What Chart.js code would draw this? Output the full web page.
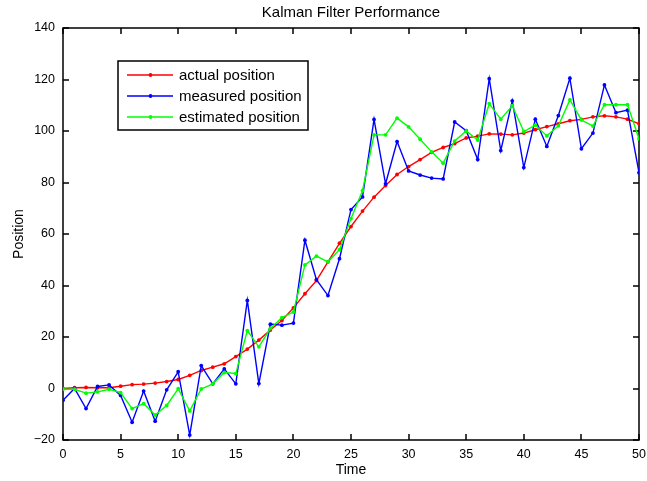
<!DOCTYPE html>
<html>
<head>
<meta charset="utf-8">
<title>Kalman Filter Performance</title>
<script src="https://cdn.jsdelivr.net/npm/chart.js@4"></script>
<style>
  html, body { margin: 0; padding: 0; background: #fff; }
  canvas { display: block; }
</style>
</head>
<body>
<canvas id="chart" width="647" height="481"></canvas>
<script>
// Datos
const tiempo = [0, 1, 2, 3, 4, 5, 6, 7, 8, 9, 10, 11, 12, 13, 14, 15, 16, 17, 18, 19, 20,
  21, 22, 23, 24, 25, 26, 27, 28, 29, 30, 31, 32, 33, 34, 35, 36, 37, 38, 39, 40,
  41, 42, 43, 44, 45, 46, 47, 48, 49, 50];

const posicionReal = [0, 0.3, 0.4, 0.3, 0.3, 0.9, 1.5, 1.7, 2.1, 2.7, 3.5,
  5.1, 7.0, 8.3, 9.6, 12.4, 15.3, 18.8, 22.7, 26.4, 31.3,
  36.8, 41.9, 49.2, 56.4, 62.9, 68.9, 74.3, 78.8, 83.1, 86.2,
  88.9, 91.7, 93.6, 95.1, 97.3, 98.0, 98.9, 98.8, 98.5, 99.2,
  100.5, 101.7, 102.8, 104.0, 104.5, 105.5, 105.9, 105.5, 104.6, 102.8];

const posicionMedida = [-4.6, 0, -7.8, 0.8, 1.4, -2.7, -13.1, -1.0, -12.7, -0.5, 6.5,
  -18.1, 8.9, 1.8, 7.6, 1.8, 34.2, 1.9, 25.0, 24.6, 25.4,
  57.6, 42.3, 36.1, 50.4, 69.5, 74.4, 104.5, 79.5, 95.9, 84.5,
  82.9, 81.7, 81.4, 103.5, 100.1, 88.9, 120.3, 92.4, 111.7, 85.8,
  104.6, 94.0, 106.0, 120.5, 93.1, 99.2, 117.9, 107.1, 108.1, 83.8];

const posicionEstimada = [-0.3, -0.3, -1.8, -1.3, -0.3, -1.6, -7.8, -5.9, -10.3, -6.6, -0.1,
  -8.7, -0.2, 1.8, 6.2, 5.8, 22.5, 16.2, 23.3, 27.5, 29.7,
  48.0, 51.4, 49.2, 53.9, 66.0, 76.8, 98.5, 98.5, 105.0, 101.6,
  96.8, 91.9, 87.5, 96.1, 100.0, 96.5, 110.6, 104.6, 109.8, 99.8,
  102.3, 98.1, 102.0, 112.1, 104.3, 101.9, 110.2, 110.2, 110.2, 97.0];

const ticksX = [0, 5, 10, 15, 20, 25, 30, 35, 40, 45, 50];
const ticksY = [-20, 0, 20, 40, 60, 80, 100, 120, 140];

const titulo = 'Kalman Filter Performance';
const FUENTE = '"Liberation Sans", Arial, Helvetica, sans-serif';

function puntos(valores) {
  return tiempo.map((t, i) => ({ x: t, y: valores[i] }));
}

function serie(label, valores, color, orden) {
  return {
    label: label,
    data: puntos(valores),
    borderColor: color,
    backgroundColor: color,
    borderWidth: 1.4,
    pointRadius: 1.9,
    pointBorderWidth: 0,
    pointBackgroundColor: color,
    tension: 0,
    order: orden
  };
}

// Caja de ejes con marcas hacia adentro (estilo MATLAB)
const cajaEjes = {
  id: 'cajaEjes',
  beforeDatasetsDraw(chart) {
    const c = chart.ctx;
    const a = chart.chartArea;
    const sx = chart.scales.x, sy = chart.scales.y;
    const largo = 6;
    const izq = Math.round(a.left), der = Math.round(a.right);
    const arr = Math.round(a.top), abj = Math.round(a.bottom);
    c.save();
    c.strokeStyle = '#000000';
    c.lineWidth = 1.5;
    c.lineCap = 'butt';
    c.beginPath();
    ticksX.forEach(v => {
      const px = Math.round(sx.getPixelForValue(v));
      c.moveTo(px, abj); c.lineTo(px, abj - largo);
      c.moveTo(px, arr); c.lineTo(px, arr + largo);
    });
    ticksY.forEach(v => {
      const py = Math.round(sy.getPixelForValue(v));
      c.moveTo(izq, py); c.lineTo(izq + largo, py);
      c.moveTo(der, py); c.lineTo(der - largo, py);
    });
    c.stroke();
    c.beginPath();
    c.rect(izq, arr, der - izq, abj - arr);
    c.stroke();
    c.restore();
  },
  afterDraw(chart) {
    const c = chart.ctx;
    const a = chart.chartArea;
    c.save();
    c.fillStyle = '#000';
    c.font = '15px ' + FUENTE;
    c.textAlign = 'center';
    c.textBaseline = 'alphabetic';
    c.fillText(titulo, (a.left + a.right) / 2, 17);
    c.restore();
  }
};

// Leyenda dibujada dentro del area, como en la figura original
const leyenda = {
  id: 'leyenda',
  afterDatasetsDraw(chart) {
    const c = chart.ctx;
    const x0 = 118, y0 = 61, ancho = 190, alto = 69;
    const filas = [75, 96, 117];
    c.save();
    c.fillStyle = '#fff';
    c.fillRect(x0, y0, ancho, alto);
    c.strokeStyle = '#000';
    c.lineWidth = 1.5;
    c.strokeRect(x0, y0, ancho, alto);
    c.font = '15px ' + FUENTE;
    c.textBaseline = 'middle';
    c.textAlign = 'left';
    chart.data.datasets.forEach((ds, i) => {
      const y = filas[i];
      c.strokeStyle = ds.borderColor;
      c.lineWidth = 1.4;
      c.beginPath();
      c.moveTo(127, y); c.lineTo(173, y);
      c.stroke();
      c.fillStyle = ds.borderColor;
      c.beginPath();
      c.arc(150.5, y, 1.9, 0, Math.PI * 2);
      c.fill();
      c.fillStyle = '#000';
      c.fillText(ds.label, 179, y + 1);
    });
    c.restore();
  }
};

const ctx = document.getElementById('chart').getContext('2d');
new Chart(ctx, {
  type: 'line',
  data: {
    datasets: [
      serie('actual position', posicionReal, '#ff0000', 3),
      serie('measured position', posicionMedida, '#0000ff', 2),
      serie('estimated position', posicionEstimada, '#00ff00', 1)
    ]
  },
  options: {
    responsive: false,
    animation: false,
    layout: { padding: { left: 0, right: 8, top: 28, bottom: 0 } },
    plugins: {
      legend: { display: false },
      tooltip: { enabled: false },
      title: { display: false }
    },
    scales: {
      x: {
        type: 'linear',
        min: 0,
        max: 50,
        afterBuildTicks: s => { s.ticks = ticksX.map(v => ({ value: v })); },
        afterFit: s => { s.height = 41; s.paddingLeft = 0; s.paddingRight = 0; },
        grid: { display: false, drawTicks: false },
        border: { display: false },
        ticks: {
          color: '#000',
          padding: 7,
          maxRotation: 0,
          font: { family: FUENTE, size: 12.5 }
        },
        title: {
          display: true,
          text: 'Time',
          color: '#000',
          font: { family: FUENTE, size: 14 },
          padding: { top: 0, bottom: 2 }
        }
      },
      y: {
        type: 'linear',
        min: -20,
        max: 140,
        afterBuildTicks: s => { s.ticks = ticksY.map(v => ({ value: v })); },
        afterFit: s => { s.width = 63; s.paddingTop = 0; s.paddingBottom = 0; },
        grid: { display: false, drawTicks: false },
        border: { display: false },
        ticks: {
          color: '#000',
          padding: 8,
          font: { family: FUENTE, size: 12.5 },
          callback: v => String(v).replace('-', '\u2212')
        },
        title: {
          display: true,
          text: 'Position',
          color: '#000',
          font: { family: FUENTE, size: 14 },
          padding: { top: 11, bottom: 0 }
        }
      }
    }
  },
  plugins: [cajaEjes, leyenda]
});
</script>
</body>
</html>
